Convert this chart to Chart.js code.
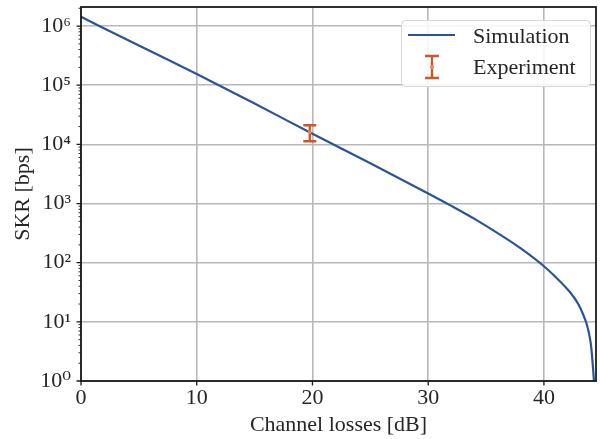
<!DOCTYPE html>
<html>
<head>
<meta charset="utf-8">
<script src="https://cdn.jsdelivr.net/npm/chart.js@4.4.1/dist/chart.umd.min.js"></script>
<style>
  html, body { margin: 0; padding: 0; background: #fff; }
  #wrap { width: 600px; height: 439px; }
</style>
</head>
<body>
<div id="wrap"><canvas id="skr-chart"></canvas></div>
<script>
// SKR vs channel losses

var lossDb = [0, 5, 10, 15, 20, 25, 30, 32, 34, 36, 38, 40, 41, 42, 42.5, 43, 43.4, 43.7, 43.9, 44.05, 44.15, 44.25, 44.32];
var skrSim = [1.435e6, 4.68e5, 1.55e5, 4.9e4, 1.51e4, 4.79e3, 1.48e3, 912, 550, 316, 174, 87, 57.5, 36.3, 27.5, 19.5, 13.2, 9.1, 6.3, 4.3, 2.8, 1.6, 1];

var expLoss = [19.77];
var expSkr = [1.62e4];
var expLow = [1.13e4];
var expHigh = [2.11e4];

var xTicks = [0, 10, 20, 30, 40];
var yTicks = [1, 10, 100, 1000, 1e4, 1e5, 1e6];
var supers = ['\u2070', '\u00b9', '\u00b2', '\u00b3', '\u2074', '\u2075', '\u2076'];

var blue = '#2b5497',
    orange = '#c75b27',
    gridGray = '#b8b8b8',
    ink = '#1a1a1a';

Chart.defaults.font.family = "'Liberation Serif', 'DejaVu Serif', serif";
Chart.defaults.font.size = 22;
Chart.defaults.color = '#262626';

var curvePoints = lossDb.map(function (l, i) { return { x: l, y: skrSim[i] }; });
var expPoints = expLoss.map(function (l, i) { return { x: l, y: expSkr[i] }; });

// minor log ticks 2..9 x 10^n
var minorTicks = [];
for (var d = 0; d <= 6; d++) {
    for (var k = 2; k <= 9; k++) {
        if (k * Math.pow(10, d) <= 2.1e6) minorTicks.push(k * Math.pow(10, d));
    }
}

var framePlugin = {
    id: 'frame',
    beforeDatasetDraw: function (chart, args) {
        if (args.index !== 1) return;
        var ctx = chart.ctx, x = chart.scales.x, y = chart.scales.y;
        ctx.save();
        ctx.strokeStyle = orange;
        ctx.lineWidth = 2.4;
        expLoss.forEach(function (l, i) {
            var px = x.getPixelForValue(l),
                top = y.getPixelForValue(expHigh[i]),
                bot = y.getPixelForValue(expLow[i]);
            ctx.beginPath();
            ctx.moveTo(px, top); ctx.lineTo(px, bot);
            ctx.moveTo(px - 6.5, top); ctx.lineTo(px + 6.5, top);
            ctx.moveTo(px - 6.5, bot); ctx.lineTo(px + 6.5, bot);
            ctx.stroke();
        });
        ctx.restore();
    },
    afterDatasetsDraw: function (chart) {
        var ctx = chart.ctx, a = chart.chartArea, x = chart.scales.x, y = chart.scales.y;
        ctx.save();
        ctx.strokeStyle = ink;
        ctx.lineWidth = 1.8;
        ctx.strokeRect(a.left, a.top, a.right - a.left, a.bottom - a.top);

        ctx.lineWidth = 1.3;
        ctx.beginPath();
        xTicks.forEach(function (v) {
            var px = x.getPixelForValue(v);
            ctx.moveTo(px, a.bottom); ctx.lineTo(px, a.bottom + 4.5);
        });
        yTicks.forEach(function (v) {
            var py = y.getPixelForValue(v);
            ctx.moveTo(a.left, py); ctx.lineTo(a.left - 4.5, py);
        });
        ctx.stroke();
        ctx.lineWidth = 0.9;
        ctx.beginPath();
        minorTicks.forEach(function (v) {
            var py = y.getPixelForValue(v);
            ctx.moveTo(a.left, py); ctx.lineTo(a.left - 2.5, py);
        });
        ctx.stroke();
        ctx.restore();
    },
    afterDraw: function (chart) {
        var ctx = chart.ctx, a = chart.chartArea;
        var ds = chart.data.datasets;
        var bw = 189, bh = 66;
        var bx = a.right - 6 - bw, by = a.top + 13;
        ctx.save();
        ctx.fillStyle = 'rgba(255,255,255,0.85)';
        ctx.strokeStyle = '#d6d6d6';
        ctx.lineWidth = 1;
        ctx.beginPath();
        ctx.roundRect(bx + 0.5, by + 0.5, bw, bh, 4);
        ctx.fill();
        ctx.stroke();

        // Simulation swatch
        ctx.strokeStyle = blue;
        ctx.lineWidth = 2.2;
        ctx.beginPath();
        ctx.moveTo(bx + 7, by + 15); ctx.lineTo(bx + 54, by + 15);
        ctx.stroke();

        // Experiment swatch
        var cx = bx + 31, t = by + 36, b = by + 58;
        ctx.strokeStyle = orange;
        ctx.lineWidth = 2.4;
        ctx.beginPath();
        ctx.moveTo(cx, t); ctx.lineTo(cx, b);
        ctx.moveTo(cx - 7, t); ctx.lineTo(cx + 7, t);
        ctx.moveTo(cx - 7, b); ctx.lineTo(cx + 7, b);
        ctx.stroke();
        ctx.fillStyle = '#e08a5c';
        ctx.beginPath();
        ctx.arc(cx, (t + b) / 2, 2, 0, Math.PI * 2);
        ctx.fill();

        ctx.fillStyle = '#262626';
        ctx.font = "22px 'Liberation Serif', 'DejaVu Serif', serif";
        ctx.textBaseline = 'alphabetic';
        ctx.fillText(ds[0].label, bx + 72, by + 23);
        ctx.fillText(ds[1].label, bx + 72, by + 54);
        ctx.restore();
    }
};

var skrChart = new Chart(document.getElementById('skr-chart'), {
    type: 'scatter',
    data: {
        datasets: [{
            label: 'Simulation',
            data: curvePoints,
            showLine: true,
            borderColor: blue,
            borderWidth: 2.2,
            pointRadius: 0,
            cubicInterpolationMode: 'monotone',
            order: 1
        },
        {
            label: 'Experiment',
            data: expPoints,
            pointRadius: 2,
            pointBackgroundColor: '#e08a5c',
            pointBorderWidth: 0,
            order: 0
        }]
    },
    options: {
        responsive: true,
        maintainAspectRatio: false,
        animation: false,
        layout: { padding: { top: 7, right: 1, left: 0, bottom: 0 } },
        plugins: {
            legend: { display: false },
            tooltip: { enabled: false }
        },
        scales: {
            x: {
                type: 'linear',
                min: 0,
                max: 44.5,
                afterBuildTicks: function (scale) {
                    scale.ticks = xTicks.map(function (v) { return { value: v }; });
                },
                afterFit: function (scale) {
                    scale.height = 58;
                    scale.paddingLeft = 0;
                    scale.paddingRight = 0;
                },
                ticks: { padding: 4, maxRotation: 0, autoSkip: false },
                grid: { color: gridGray, lineWidth: 1.6, drawTicks: false },
                border: { display: false },
                title: { display: true, text: 'Channel losses [dB]', padding: { top: 0, bottom: 1 } }
            },
            y: {
                type: 'logarithmic',
                min: 1,
                max: 2.1e6,
                afterBuildTicks: function (scale) {
                    scale.ticks = yTicks.map(function (v) { return { value: v }; });
                },
                afterFit: function (scale) {
                    scale.width = 81;
                    scale.paddingTop = 0;
                    scale.paddingBottom = 0;
                },
                ticks: {
                    padding: 10,
                    autoSkip: false,
                    callback: function (v) {
                        return '10' + supers[Math.round(Math.log10(v))];
                    }
                },
                grid: { color: gridGray, lineWidth: 1.6, drawTicks: false },
                border: { display: false },
                title: { display: true, text: 'SKR [bps]', padding: { top: 10, bottom: 0 } }
            }
        }
    },
    plugins: [framePlugin]
});
</script>
</body>
</html>
